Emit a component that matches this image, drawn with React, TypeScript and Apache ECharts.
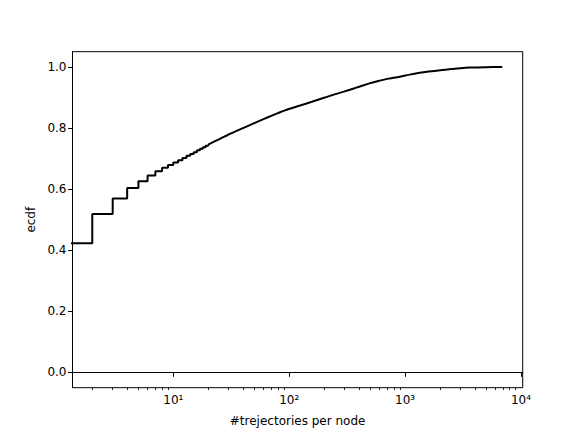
import React, { useEffect, useRef } from "react";
import * as echarts from "echarts";

// Stepped part of the ECDF (small integer counts)
const stepCounts = [1, 2, 3, 4, 5, 6, 7, 8, 9, 10, 11, 12, 13, 14, 15, 16, 17, 18, 19, 20];
const stepEcdf = [0.423, 0.519, 0.569, 0.604, 0.626, 0.645, 0.659, 0.670, 0.679, 0.687, 0.695, 0.702, 0.709, 0.715, 0.721, 0.727, 0.732, 0.737, 0.742, 0.746];

// Dense (visually smooth) part of the ECDF
const smoothCounts = [20, 25, 30, 40, 50, 60, 70, 80, 92, 120, 157, 200, 250, 300, 350, 400, 500, 600, 700, 900, 1100, 1337, 1600, 2000, 2500, 3000, 3600, 5000, 6900];
const smoothEcdf = [0.746, 0.764, 0.779, 0.800, 0.816, 0.829, 0.840, 0.849, 0.858, 0.872, 0.886, 0.899, 0.911, 0.920, 0.928, 0.935, 0.947, 0.955, 0.961, 0.968, 0.975, 0.981, 0.985, 0.989, 0.993, 0.996, 0.998, 0.9995, 1.0];

const xMajorTicks = [10, 100, 1000, 10000];
const xMajorLabels = ["10¹", "10²", "10³", "10⁴"];
const xMinorTicks = [2, 3, 4, 5, 6, 7, 8, 9, 20, 30, 40, 50, 60, 70, 80, 90, 200, 300, 400, 500, 600, 700, 800, 900, 2000, 3000, 4000, 5000, 6000, 7000, 8000, 9000];
const yTicks = [0, 0.2, 0.4, 0.6, 0.8, 1.0];

const X_MIN = 1.35;
const X_MAX = 10350;

export default function App() {
  const ref = useRef<HTMLDivElement>(null);
  useEffect(() => {
    if (!ref.current) return;
    const chart = echarts.init(ref.current, undefined, { renderer: "svg" });
    const lg = (v: number) => Math.log10(v);
    const font = "DejaVu Sans";
    const labelMap: Record<string, string> = {};
    xMajorTicks.forEach((t, i) => (labelMap[lg(t).toFixed(4)] = xMajorLabels[i]));

    const xBase = {
      type: "value" as const,
      min: lg(X_MIN),
      max: lg(X_MAX),
      position: "bottom" as const,
      splitLine: { show: false },
    };

    chart.setOption({
      animation: false,
      backgroundColor: "#ffffff",
      textStyle: { fontFamily: font },
      grid: {
        left: 72.5,
        right: 58.3,
        top: 51.7,
        bottom: 48.3,
        show: true,
        borderColor: "#000",
        borderWidth: 1,
        backgroundColor: "transparent",
      },
      xAxis: [
        {
          ...xBase,
          name: "#trejectories per node",
          nameLocation: "middle",
          nameGap: 27,
          nameTextStyle: { color: "#000", fontSize: 12, fontFamily: font },
          axisLine: { show: true, lineStyle: { color: "#000", width: 1 } },
          axisTick: {
            show: true,
            length: 4.4,
            lineStyle: { color: "#000", width: 1 },
            customValues: xMajorTicks.map(lg),
          },
          axisLabel: {
            show: true,
            color: "#000",
            fontSize: 12,
            fontFamily: font,
            margin: 6,
            customValues: xMajorTicks.map(lg),
            formatter: (v: number) => labelMap[v.toFixed(4)] ?? "",
          },
        },
        {
          ...xBase,
          axisLine: { show: false },
          axisLabel: { show: false },
          axisTick: {
            show: true,
            length: 2.5,
            lineStyle: { color: "#000", width: 0.8 },
            customValues: xMinorTicks.map(lg),
          },
        },
      ],
      yAxis: {
        type: "value",
        min: -0.05,
        max: 1.05,
        name: "ecdf",
        nameLocation: "middle",
        nameGap: 36,
        nameTextStyle: { color: "#000", fontSize: 12, fontFamily: font },
        splitLine: { show: false },
        axisLine: { show: true, lineStyle: { color: "#000", width: 1 } },
        axisTick: {
          show: true,
          length: 4.4,
          lineStyle: { color: "#000", width: 1 },
          customValues: yTicks,
        },
        axisLabel: {
          color: "#000",
          fontSize: 12,
          fontFamily: font,
          margin: 6,
          customValues: yTicks,
          formatter: (v: number) => v.toFixed(1),
        },
      },
      series: [
        {
          type: "line",
          xAxisIndex: 0,
          step: "end",
          showSymbol: false,
          clip: true,
          lineStyle: { color: "#000", width: 2 },
          data: stepCounts.map((c, i) => [lg(c), stepEcdf[i]]),
        },
        {
          type: "line",
          xAxisIndex: 0,
          showSymbol: false,
          clip: true,
          smooth: 0.3,
          lineStyle: { color: "#000", width: 2 },
          data: smoothCounts.map((c, i) => [lg(c), smoothEcdf[i]]),
        },
      ],
    });
    return () => chart.dispose();
  }, []);
  return (
    <div
      ref={ref}
      style={{ position: "absolute", left: 0, top: 0, width: 581, height: 436 }}
    />
  );
}
